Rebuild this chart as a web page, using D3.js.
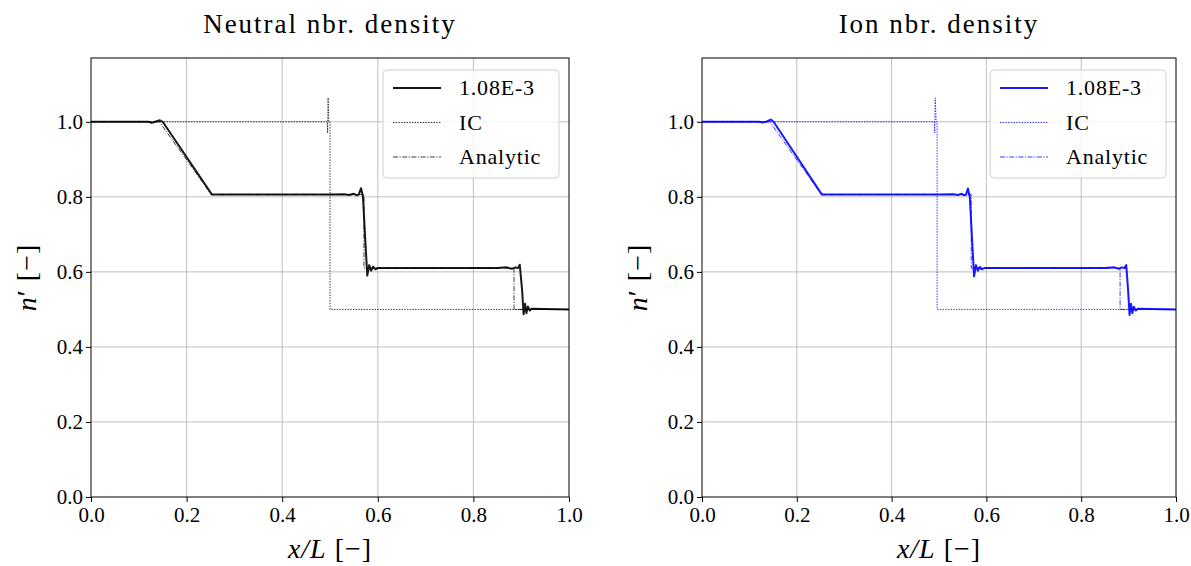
<!DOCTYPE html>
<html>
<head>
<meta charset="utf-8">
<script src="https://cdn.jsdelivr.net/npm/d3@7"></script>
<style>
  body { margin: 0; background: #fff; }
  svg { font-family: "Liberation Serif", "DejaVu Serif", serif; }
</style>
</head>
<body>
<div id="chart"></div>
<script>
'use strict';

// --- data ---
const xTicks = [0, 0.2, 0.4, 0.6, 0.8, 1.0];
const yTicks = [0, 0.2, 0.4, 0.6, 0.8, 1.0];
const legendLabels = ["1.08E-3", "IC", "Analytic"];
const panelTitles = ["Neutral nbr. density", "Ion nbr. density"];

// numerical solution, neutrals
const neutralX = [0, 0.12, 0.127, 0.134, 0.144, 0.15, 0.253, 0.26, 0.5, 0.53, 0.54, 0.55, 0.556, 0.56, 0.565, 0.569, 0.574, 0.578, 0.582, 0.586, 0.59, 0.595, 0.6, 0.85, 0.87, 0.88, 0.888, 0.893, 0.897, 0.902, 0.905, 0.908, 0.911, 0.914, 0.918, 0.922, 1.0];
const neutralY = [1.0, 1.0, 0.997, 1.0, 1.004, 1.0, 0.806, 0.806, 0.806, 0.807, 0.805, 0.808, 0.804, 0.806, 0.823, 0.80, 0.68, 0.59, 0.618, 0.603, 0.614, 0.607, 0.61, 0.61, 0.612, 0.608, 0.612, 0.61, 0.619, 0.55, 0.487, 0.515, 0.49, 0.508, 0.497, 0.502, 0.5];

// numerical solution, ions
const ionX = [0, 0.12, 0.128, 0.135, 0.145, 0.151, 0.253, 0.26, 0.5, 0.53, 0.54, 0.548, 0.553, 0.557, 0.561, 0.565, 0.57, 0.574, 0.578, 0.582, 0.586, 0.59, 0.596, 0.85, 0.87, 0.88, 0.886, 0.891, 0.895, 0.899, 0.902, 0.905, 0.908, 0.911, 0.915, 0.92, 1.0];
const ionY = [1.0, 1.0, 0.998, 1.0, 1.006, 1.0, 0.806, 0.806, 0.806, 0.807, 0.805, 0.808, 0.804, 0.806, 0.822, 0.80, 0.68, 0.588, 0.618, 0.603, 0.613, 0.607, 0.61, 0.61, 0.612, 0.608, 0.612, 0.61, 0.618, 0.55, 0.485, 0.515, 0.49, 0.507, 0.497, 0.502, 0.5];

// initial condition
const icNeutralX = [0, 0.494, 0.495, 0.496, 0.4975, 0.5, 0.5, 1.0];
const icNeutralY = [1.0, 1.0, 0.97, 1.064, 1.0, 1.0, 0.5, 0.5];
const icIonX = [0, 0.49, 0.491, 0.492, 0.494, 0.496, 0.496, 1.0];
const icIonY = [1.0, 1.0, 0.97, 1.064, 1.0, 1.0, 0.5, 0.5];

// analytic solution
const anNeutralX = [0, 0.143, 0.252, 0.571, 0.571, 0.885, 0.885, 1.0];
const anNeutralY = [1.0, 1.0, 0.806, 0.806, 0.61, 0.61, 0.5, 0.5];
const anIonX = [0, 0.143, 0.252, 0.568, 0.568, 0.882, 0.882, 1.0];
const anIonY = [1.0, 1.0, 0.806, 0.806, 0.61, 0.61, 0.5, 0.5];

const W = 1191, H = 566;

const svg = d3.select("#chart").append("svg")
    .attr("width", W)
    .attr("height", H);

function zip(xs, ys) {
    return xs.map((x, i) => ({x: x, y: ys[i]}));
}

function drawPanel(p) {
    const g = svg.append("g");
    const x = d3.scaleLinear().domain([0, 1]).range([p.left, p.right]);
    const y = d3.scaleLinear().domain([0, 1.17]).range([p.bottom, p.top]);

    // grid
    g.append("g").selectAll("line").data(xTicks.slice(1, -1)).join("line")
        .attr("x1", d => x(d)).attr("x2", d => x(d))
        .attr("y1", p.top).attr("y2", p.bottom)
        .attr("stroke", "#b0b0b0").attr("stroke-width", 0.8);
    g.append("g").selectAll("line").data(yTicks.slice(1)).join("line")
        .attr("x1", p.left).attr("x2", p.right)
        .attr("y1", d => y(d)).attr("y2", d => y(d))
        .attr("stroke", "#b0b0b0").attr("stroke-width", 0.8);

    const line = d3.line().x(d => x(d.x)).y(d => y(d.y));

    // IC (dotted)
    g.append("path").attr("d", line(zip(p.icX, p.icY)))
        .attr("fill", "none").attr("stroke", p.color)
        .attr("stroke-width", 0.9).attr("stroke-dasharray", "1.5,1.2")
        .attr("opacity", 0.85);
    // analytic (dash-dot)
    g.append("path").attr("d", line(zip(p.anX, p.anY)))
        .attr("fill", "none").attr("stroke", p.color)
        .attr("stroke-width", 0.9).attr("stroke-dasharray", "5,1.5,1.2,1.5")
        .attr("opacity", 0.85);
    // numerical
    g.append("path").attr("d", line(zip(p.numX, p.numY)))
        .attr("fill", "none").attr("stroke", p.color)
        .attr("stroke-width", 2).attr("stroke-linejoin", "round")
        .attr("opacity", 0.9);

    // frame
    g.append("rect")
        .attr("x", p.left).attr("y", p.top)
        .attr("width", p.right - p.left).attr("height", p.bottom - p.top)
        .attr("fill", "none").attr("stroke", "#000").attr("stroke-width", 1);

    // axes
    const ax = g.append("g").attr("transform", `translate(0,${p.bottom})`)
        .call(d3.axisBottom(x).tickValues(xTicks).tickFormat(d3.format(".1f")).tickSize(5).tickPadding(3));
    const ay = g.append("g").attr("transform", `translate(${p.left},0)`)
        .call(d3.axisLeft(y).tickValues(yTicks).tickFormat(d3.format(".1f")).tickSize(5).tickPadding(3));
    [ax, ay].forEach(a => {
        a.select(".domain").remove();
        a.selectAll(".tick line").attr("stroke", "#000");
        a.selectAll(".tick text")
            .attr("font-family", "Liberation Serif, DejaVu Serif, serif")
            .attr("font-size", 21).attr("fill", "#000");
    });
    ax.selectAll(".tick text").attr("dy", "0.8em");

    // title
    g.append("text")
        .attr("x", (p.left + p.right) / 2).attr("y", 33)
        .attr("text-anchor", "middle").attr("font-size", 27)
        .attr("letter-spacing", 2)
        .text(p.title);

    // x label
    const xl = g.append("text")
        .attr("x", (p.left + p.right) / 2).attr("y", 558)
        .attr("text-anchor", "middle").attr("font-size", 28)
        .attr("letter-spacing", 1);
    xl.append("tspan").attr("font-style", "italic").text("x/L");
    xl.append("tspan").text(" [\u2212]");

    // y label
    const yl = g.append("text")
        .attr("transform", `translate(${p.left - 55},${(p.top + p.bottom) / 2}) rotate(-90)`)
        .attr("text-anchor", "middle").attr("font-size", 28)
        .attr("letter-spacing", 1);
    yl.append("tspan").attr("font-style", "italic").text("n");
    yl.append("tspan").text("\u2032 [\u2212]");

    // legend
    const lg = g.append("g").attr("transform", `translate(${p.right - 186},${p.top + 12})`);
    lg.append("rect").attr("width", 176).attr("height", 108).attr("rx", 4)
        .attr("fill", "#fff").attr("fill-opacity", 0.8)
        .attr("stroke", "#d0d0d0").attr("stroke-width", 1);
    const styles = [
        {w: 2, dash: null},
        {w: 0.9, dash: "1.5,1.2"},
        {w: 0.9, dash: "5,1.5,1.2,1.5"}
    ];
    legendLabels.forEach((lab, i) => {
        const yy = 18 + i * 34.5;
        lg.append("line").attr("x1", 10).attr("x2", 58).attr("y1", yy).attr("y2", yy)
            .attr("stroke", p.color).attr("stroke-width", styles[i].w)
            .attr("stroke-dasharray", styles[i].dash)
            .attr("opacity", i === 0 ? 0.9 : 0.85);
        lg.append("text").attr("x", 76).attr("y", yy + 7)
            .attr("font-size", 22).attr("letter-spacing", 0.8).text(lab);
    });
}

drawPanel({
    left: 91, right: 569, top: 58, bottom: 497,
    color: "#000000", title: panelTitles[0],
    numX: neutralX, numY: neutralY,
    icX: icNeutralX, icY: icNeutralY,
    anX: anNeutralX, anY: anNeutralY
});
drawPanel({
    left: 702, right: 1176, top: 58, bottom: 497,
    color: "#0000ff", title: panelTitles[1],
    numX: ionX, numY: ionY,
    icX: icIonX, icY: icIonY,
    anX: anIonX, anY: anIonY
});
</script>
</body>
</html>
